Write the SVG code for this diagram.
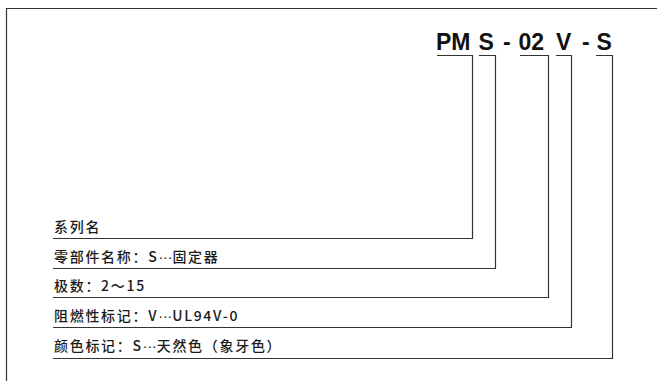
<svg xmlns="http://www.w3.org/2000/svg" width="657" height="381" viewBox="0 0 657 381">
<style>
.ln{fill:none;stroke:#333;stroke-width:1.2}
.t{font-family:"Liberation Sans",Arial,sans-serif;font-weight:bold;font-size:23px;fill:#111}
.lb{font-family:"Noto Sans CJK SC","Noto Sans",sans-serif;font-size:14px;font-weight:500;fill:#1a1a1a;letter-spacing:1.7px}
.d{font-family:"Liberation Sans",Arial,sans-serif;letter-spacing:0}
</style>
<rect width="657" height="381" fill="#fff"/>
<path class="ln" d="M6.5,381 V8.5 H657"/>
<g id="code">
<text class="t" x="436" y="49.5">PM</text>
<text class="t" x="478.5" y="49.5">S</text>
<text class="t" x="503" y="49.5">-</text>
<text class="t" x="518.5" y="49.5">02</text>
<text class="t" x="556" y="49.5">V</text>
<text class="t" x="582" y="49.5">-</text>
<text class="t" x="596.5" y="49.5">S</text>
</g>
<g id="connectors">
<path class="ln" d="M437,55.5 H472.5 V238.5 H53"/>
<path class="ln" d="M479,55.5 H495.5 V268.5 H53"/>
<path class="ln" d="M520,55.5 H548.5 V297.5 H53"/>
<path class="ln" d="M556,55.5 H571.5 V327.5 H53"/>
<path class="ln" d="M596,55.5 H612.5 V358.5 H53"/>
</g>
<g id="n1"><text class="lb" x="54" y="232">系列名</text></g>
<g id="n2"><text class="lb" x="54" y="262">零部件名称：S<tspan class="d">···</tspan>固定器</text></g>
<g id="n3"><text class="lb" x="54" y="291">极数：2～15</text></g>
<g id="n4"><text class="lb" x="54" y="321">阻燃性标记：V<tspan class="d">···</tspan>UL94V-0</text></g>
<g id="n5"><text class="lb" x="54" y="351">颜色标记：S<tspan class="d">···</tspan>天然色（象牙色）</text></g>
</svg>
